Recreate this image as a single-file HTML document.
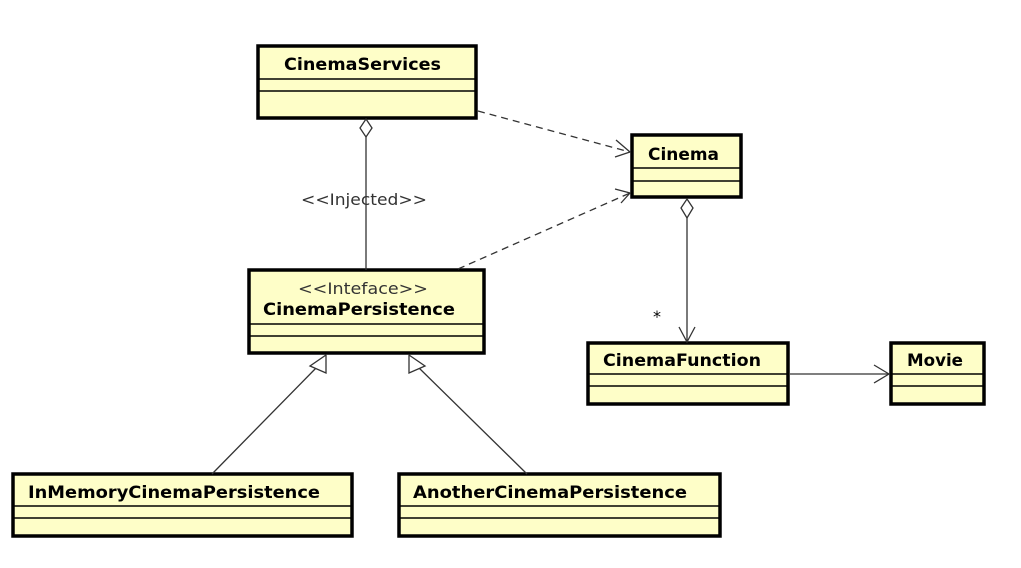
<!DOCTYPE html>
<html><head><meta charset="utf-8"><style>
html,body{margin:0;padding:0;background:#fff;}
svg{display:block;}
.t{font-family:"DejaVu Sans","Liberation Sans",sans-serif;font-weight:bold;font-size:17px;fill:#000;}
.s{font-family:"DejaVu Sans","Liberation Sans",sans-serif;font-size:16px;fill:#333;}
</style></head><body>
<svg width="1021" height="568" viewBox="0 0 1021 568" xmlns="http://www.w3.org/2000/svg">
<g fill="#fefec8" stroke="#000" stroke-width="3.5">
<rect x="258" y="46" width="218" height="72"/>
<rect x="632" y="135" width="109" height="62"/>
<rect x="249" y="270" width="235" height="83"/>
<rect x="588" y="343" width="200" height="61"/>
<rect x="891" y="343" width="93" height="61"/>
<rect x="13" y="474" width="339" height="62"/>
<rect x="399" y="474" width="321" height="62"/>
</g>
<g stroke="#000" stroke-width="1.5">
<line x1="258" y1="79" x2="476" y2="79"/><line x1="258" y1="91" x2="476" y2="91"/>
<line x1="632" y1="168" x2="741" y2="168"/><line x1="632" y1="181" x2="741" y2="181"/>
<line x1="249" y1="324" x2="484" y2="324"/><line x1="249" y1="336" x2="484" y2="336"/>
<line x1="588" y1="374" x2="788" y2="374"/><line x1="588" y1="386" x2="788" y2="386"/>
<line x1="891" y1="374" x2="984" y2="374"/><line x1="891" y1="386" x2="984" y2="386"/>
<line x1="13" y1="506" x2="352" y2="506"/><line x1="13" y1="518" x2="352" y2="518"/>
<line x1="399" y1="506" x2="720" y2="506"/><line x1="399" y1="518" x2="720" y2="518"/>
</g>
<text class="t" x="284" y="70" textLength="157" lengthAdjust="spacingAndGlyphs">CinemaServices</text>
<text class="t" x="648" y="160" textLength="71" lengthAdjust="spacingAndGlyphs">Cinema</text>
<text class="s" x="298" y="294" textLength="130" lengthAdjust="spacingAndGlyphs">&lt;&lt;Inteface&gt;&gt;</text>
<text class="t" x="263" y="315" textLength="192" lengthAdjust="spacingAndGlyphs">CinemaPersistence</text>
<text class="t" x="603" y="366" textLength="158" lengthAdjust="spacingAndGlyphs">CinemaFunction</text>
<text class="t" x="907" y="366" textLength="56" lengthAdjust="spacingAndGlyphs">Movie</text>
<text class="t" x="28" y="498" textLength="292" lengthAdjust="spacingAndGlyphs">InMemoryCinemaPersistence</text>
<text class="t" x="413" y="498" textLength="274" lengthAdjust="spacingAndGlyphs">AnotherCinemaPersistence</text>
<g stroke="#333" stroke-width="1.3" fill="none">
<line x1="366" y1="137" x2="366" y2="270"/>
<polygon points="366,119 372,128 366,137 360,128" fill="#fff"/>
<line x1="478" y1="111" x2="630" y2="152" stroke-dasharray="7,5"/>
<polyline points="616,140 630,152 615,157"/>
<line x1="458" y1="269" x2="630" y2="193" stroke-dasharray="7,5"/>
<polyline points="615,189 630,193 621,203"/>
<line x1="687" y1="218" x2="687" y2="342"/>
<polygon points="687,199 693,208 687,218 681,208" fill="#fff"/>
<polyline points="679,327 687,342 695,327"/>
<line x1="790" y1="374" x2="889" y2="374"/>
<polyline points="874,365 889,374 874,383"/>
<line x1="212" y1="474" x2="318" y2="366"/>
<polygon points="326,355 326,373 310,366" fill="#fff"/>
<line x1="527" y1="474" x2="417" y2="366"/>
<polygon points="409,355 425,366 409,373" fill="#fff"/>
</g>
<text class="s" x="301" y="205" textLength="126" lengthAdjust="spacingAndGlyphs">&lt;&lt;Injected&gt;&gt;</text>
<text class="s" x="657" y="322" text-anchor="middle" style="fill:#000">*</text>
</svg>
</body></html>
